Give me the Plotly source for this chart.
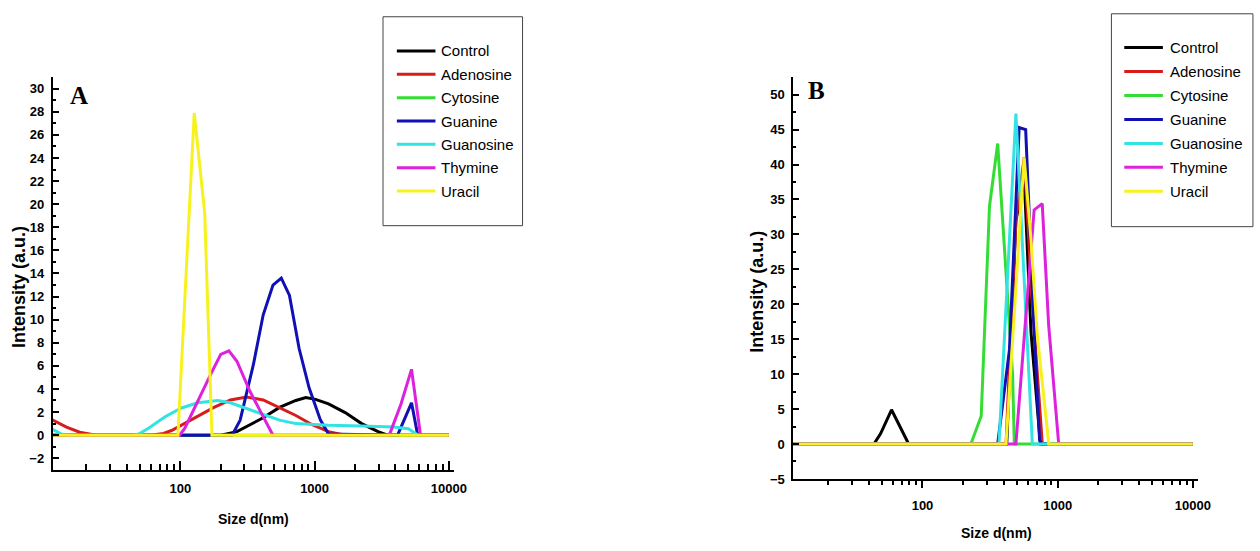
import plotly.graph_objects as go

W, H = 1260, 551

series_names = ["Control", "Adenosine", "Cytosine", "Guanine", "Guanosine", "Thymine", "Uracil"]
series_colors = ["#000000", "#d81c1c", "#33dd33", "#1010b4", "#33e3e3", "#dd22dd", "#f7f21e"]

# ---- Panel A: size distribution (size in nm, intensity in a.u.) ----
a_control_x = [10, 200, 264, 330, 414, 548, 725, 860, 1017, 1270, 1690, 2240, 2970, 3500, 10000]
a_control_y = [0, 0, 0.3, 0.9, 1.5, 2.4, 3.0, 3.25, 3.1, 2.7, 1.95, 1.0, 0.3, 0, 0]

a_adenosine_x = [10, 11.2, 14.2, 17.8, 23.6, 60, 75, 86, 100, 135, 178, 236, 312, 414, 548, 725, 960, 1270, 1690, 10000]
a_adenosine_y = [1.6, 1.3, 0.7, 0.25, 0, 0, 0.15, 0.4, 0.8, 1.6, 2.4, 3.05, 3.3, 3.05, 2.4, 1.7, 0.9, 0.3, 0, 0]

a_cytosine_x = [10, 100, 1000, 10000]
a_cytosine_y = [0, 0, 0, 0]

a_guanine_x = [10, 243, 279, 350, 414, 490, 565, 650, 767, 910, 1106, 1270, 4150, 5270, 5860, 10000]
a_guanine_y = [0, 0, 1.3, 6.1, 10.4, 13.0, 13.6, 12.1, 7.5, 4.1, 1.3, 0.1, 0, 2.8, 0, 0]

a_guanosine_x = [10, 11.2, 13, 15, 44, 49, 58, 77, 102, 135, 190, 236, 312, 414, 548, 725, 960, 1270, 2240, 3900, 5000, 5600, 5900, 10000]
a_guanosine_y = [0.8, 0.5, 0.1, 0, 0, 0.1, 0.6, 1.6, 2.35, 2.8, 3.0, 2.8, 2.3, 1.75, 1.3, 1.0, 0.9, 0.85, 0.8, 0.7, 0.55, 0.15, 0, 0]

a_thymine_x = [10, 99, 108, 135, 169, 200, 230, 264, 330, 414, 490, 3600, 4400, 5270, 6150, 10000]
a_thymine_y = [0, 0, 0.6, 3.0, 5.3, 7.0, 7.3, 6.4, 3.8, 1.6, 0, 0, 2.7, 5.7, 0, 0]

a_uracil_x = [10, 96, 127, 152, 172, 10000]
a_uracil_y = [0, 0, 27.9, 19.2, 0, 0]

# ---- Panel B ----
b_control_x = [10, 43.7, 49, 59, 79, 420, 491, 566, 635, 727, 745, 10000]
b_control_y = [0, 0, 1.5, 4.9, 0, 0, 32, 38, 16, 2, 0, 0]

b_adenosine_x = [10, 415, 491, 566, 645, 770, 10000]
b_adenosine_y = [0, 0, 32, 41, 21, 0, 0]

b_cytosine_x = [10, 228, 272, 313, 360, 464, 478, 10000]
b_cytosine_y = [0, 0, 4, 34, 43, 10, 0, 0]

b_guanine_x = [10, 360, 440, 519, 580, 668, 735, 760, 10000]
b_guanine_y = [0, 0, 13.5, 45.3, 45.0, 16.6, 0.6, 0, 0]

b_guanosine_x = [10, 368, 491, 650, 10000]
b_guanosine_y = [0, 0, 47.3, 0, 0]

b_thymine_x = [10, 424, 491, 670, 769, 858, 1018, 10000]
b_thymine_y = [0, 0, 0, 33.5, 34.4, 17, 0, 0]

b_uracil_x = [10, 415, 565, 632, 707, 814, 860, 10000]
b_uracil_y = [0, 0, 41, 29.7, 15.6, 4.8, 0, 0]

panel_a = [(a_control_x, a_control_y), (a_adenosine_x, a_adenosine_y), (a_cytosine_x, a_cytosine_y),
           (a_guanine_x, a_guanine_y), (a_guanosine_x, a_guanosine_y), (a_thymine_x, a_thymine_y),
           (a_uracil_x, a_uracil_y)]
panel_b = [(b_control_x, b_control_y), (b_adenosine_x, b_adenosine_y), (b_cytosine_x, b_cytosine_y),
           (b_guanine_x, b_guanine_y), (b_guanosine_x, b_guanosine_y), (b_thymine_x, b_thymine_y),
           (b_uracil_x, b_uracil_y)]

x_major_ticks = [100, 1000, 10000]
x_minor_ticks = [m * d for d in (10, 100, 1000) for m in range(2, 10)]

SANS = "Liberation Sans"
SERIF = "Liberation Serif"

fig = go.Figure()
for (x, y), name, color in zip(panel_a, series_names, series_colors):
    fig.add_trace(go.Scatter(x=x, y=y, mode="lines", name=name, showlegend=False,
                             line=dict(color=color, width=3), xaxis="x", yaxis="y"))
for (x, y), name, color in zip(panel_b, series_names, series_colors):
    fig.add_trace(go.Scatter(x=x, y=y, mode="lines", name=name, showlegend=False,
                             line=dict(color=color, width=3), xaxis="x2", yaxis="y2"))


def px_x(p):
    return p / W


def px_y(p):
    return 1 - p / H


tick_font = dict(family=SANS, size=13, color="black", weight="bold")
common_axis = dict(showline=True, linecolor="black", linewidth=2, showgrid=False, zeroline=False,
                   tickcolor="black", tickwidth=1.5, tickfont=tick_font)

fig.update_layout(
    width=W, height=H, margin=dict(l=0, r=0, t=0, b=0),
    paper_bgcolor="white", plot_bgcolor="white",
    xaxis=dict(type="log", range=[1.05, 4.035], domain=[px_x(53.3), px_x(458.3)], anchor="y",
               tickmode="array", tickvals=x_major_ticks, ticktext=[str(v) for v in x_major_ticks],
               ticks="inside", ticklen=9, ticklabelstandoff=6,
               minor=dict(tickmode="array", tickvals=x_minor_ticks, ticks="inside", ticklen=6,
                          tickwidth=1.5, tickcolor="black"),
               **common_axis),
    yaxis=dict(range=[-3, 31], domain=[px_y(476.7), px_y(78.3)], anchor="x",
               tick0=0, dtick=2, ticks="inside", ticklen=6, ticklabelstandoff=4,
               minor=dict(tick0=1, dtick=1, ticks="inside", ticklen=3, tickwidth=1.5, tickcolor="black"),
               **common_axis),
    xaxis2=dict(type="log", range=[1.045, 4.04], domain=[px_x(801.7), px_x(1210.7)], anchor="y2",
                tickmode="array", tickvals=x_major_ticks, ticktext=[str(v) for v in x_major_ticks],
                ticks="outside", ticklen=7, ticklabelstandoff=6,
                minor=dict(tickmode="array", tickvals=x_minor_ticks, ticks="outside", ticklen=4,
                           tickwidth=1.5, tickcolor="black"),
                **common_axis),
    yaxis2=dict(range=[-5, 52.5], domain=[px_y(486), px_y(78.3)], anchor="x2",
                tick0=0, dtick=5, ticks="inside", ticklen=6, ticklabelstandoff=4,
                minor=dict(tick0=2.5, dtick=2.5, ticks="inside", ticklen=3, tickwidth=1.5, tickcolor="black"),
                **common_axis),
)

annotations = []
shapes = []

# axis titles and panel letters
for (cx, cy, text, angle, size) in [
    (18.5, 291, "Intensity (a.u.)", -90, 18),
    (256, 527, "Size d(nm)", 0, 14),
    (765, 296, "Intensity (a.u.)", -90, 18),
    (1007, 540.5, "Size d(nm)", 0, 14),
]:
    annotations.append(dict(x=px_x(cx), y=px_y(cy), xref="paper", yref="paper", text=text,
                            showarrow=False, textangle=angle, xanchor="center", yanchor="middle",
                            font=dict(family=SANS, size=size, color="black", weight="bold")))

for (cx, cy, letter) in [(80, 96.7, "A"), (825, 91.7, "B")]:
    annotations.append(dict(x=px_x(cx), y=px_y(cy), xref="paper", yref="paper", text=letter,
                            showarrow=False, xanchor="center", yanchor="middle",
                            font=dict(family=SERIF, size=25, color="black", weight="bold")))

# legend boxes, one per panel
legend_specs = [
    dict(box=(387, 17, 528, 229), line_x=(401, 440), text_x=444, y0=51.7, dy=23.7),
    dict(box=(1123, 14, 1266, 230), line_x=(1136, 1175), text_x=1180, y0=48.3, dy=24.3),
]
for spec in legend_specs:
    bx0, by0, bx1, by1 = spec["box"]
    shapes.append(dict(type="rect", xref="paper", yref="paper",
                       x0=px_x(bx0), x1=px_x(bx1), y0=px_y(by0), y1=px_y(by1),
                       line=dict(color="#444444", width=1), fillcolor="white", layer="above"))
    for i, (name, color) in enumerate(zip(series_names, series_colors)):
        yy = spec["y0"] + i * spec["dy"]
        shapes.append(dict(type="line", xref="paper", yref="paper",
                           x0=px_x(spec["line_x"][0]), x1=px_x(spec["line_x"][1]),
                           y0=px_y(yy), y1=px_y(yy), line=dict(color=color, width=3), layer="above"))
        annotations.append(dict(x=px_x(spec["text_x"]), y=px_y(yy), xref="paper", yref="paper",
                                text=name, showarrow=False, xanchor="left", yanchor="middle",
                                font=dict(family=SANS, size=15, color="black")))

fig.update_layout(annotations=annotations, shapes=shapes)

fig.write_html("out.html")
